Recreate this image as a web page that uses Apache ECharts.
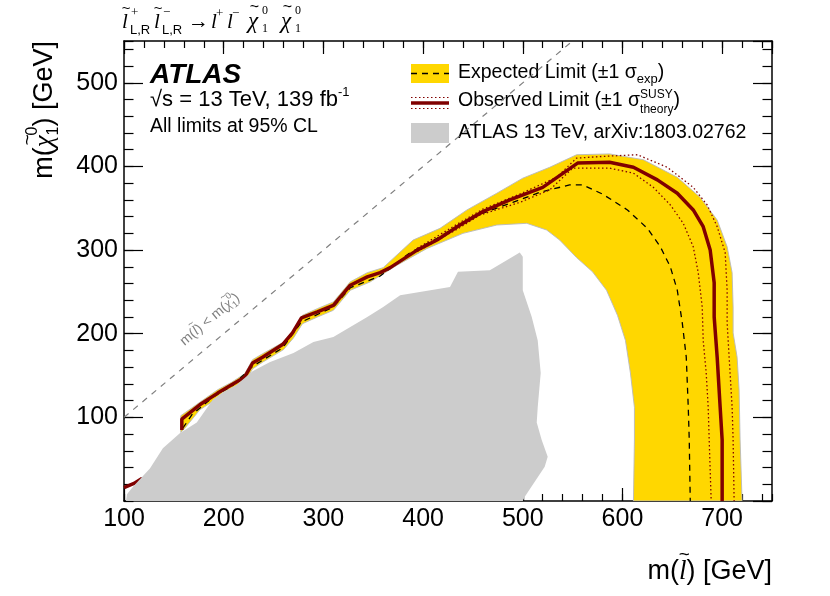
<!DOCTYPE html>
<html>
<head>
<meta charset="utf-8">
<script src="https://cdn.jsdelivr.net/npm/echarts@6/dist/echarts.min.js"></script>
<style>
  html, body { margin: 0; padding: 0; background: #fff; }
  #chart { width: 830px; height: 596px; }
</style>
</head>
<body>
<div id="chart"></div>
<script>
// 曲线数据 (GeV)
const observed = [[158,85],[158,98],[176,115],[194,129],[208,139],[221,148],[229,165],[239,172],[259,187],[269,201],[278,219],[294,226],[310,234],[327,258],[344,268],[357,273],[367,279],[394,300],[414,312],[437,330],[460,346],[487,360],[520,375],[555,404],[587,405],[611,399],[635,384],[655,368],[671,348],[681,328],[688,300],[692,261],[692,220],[695,172],[698,112],[700,73],[700,0]];
const observedLow = [[100,16],[110,21],[118,27],[122,3]];
const expected = [[159,87],[168,103],[189,124],[208,137],[229,161],[259,183],[278,214],[310,232],[327,255],[357,269],[387,297],[414,314],[450,340],[490,357],[517,369],[547,378],[560,378],[580,367],[605,348],[625,326],[638,304],[648,280],[655,252],[660,213],[664,172],[666,112],[667,73],[668,0]];
const theoryUp = [[394,302],[437,333],[460,349],[497,367],[534,387],[554,410],[580,412],[615,414],[645,399],[671,375],[685,354],[695,328],[703,297],[705,252],[705,213],[707,172],[710,112],[711,73],[712,0]];
const theoryDown = [[394,298],[437,327],[457,342],[497,357],[527,372],[550,398],[587,398],[611,392],[631,375],[648,354],[661,332],[671,304],[676,273],[680,232],[681,192],[684,153],[686,112],[687,73],[689,0]];
const bandOuter = [[157,102],[176,118],[194,133],[208,142],[221,152],[229,169],[239,176],[260,190],[270,204],[279,222],[294,230],[310,238],[327,262],[344,273],[360,279],[390,312],[417,326],[444,348],[474,368],[500,386],[527,399],[554,414],[587,415],[621,408],[655,387],[678,363],[695,336],[705,304],[710,273],[711,232],[711,201],[715,172],[717,133],[718,73],[720,0]];
const bandInner = [[611,0],[612,73],[612,112],[608,153],[603,192],[595,222],[584,252],[570,274],[554,291],[537,312],[524,324],[504,332],[474,330],[440,320],[404,302],[374,282],[347,262],[327,252],[310,228],[294,220],[279,212],[270,195],[260,181],[239,166],[229,158],[221,142],[208,133],[194,123],[176,109],[161,87],[157,82]];
const previousLimit = [[102,0],[103,8],[109,17],[126,39],[139,63],[156,81],[173,94],[189,121],[199,130],[213,139],[229,155],[246,166],[270,177],[290,190],[310,196],[327,208],[344,220],[360,232],[377,246],[427,256],[435,274],[467,276],[497,297],[500,292],[500,252],[509,220],[515,192],[518,153],[515,112],[514,94],[519,73],[525,53],[522,41],[502,5],[500,0]];
const diagonal = [[100,100],[550,550]];

const SANS = 'Liberation Sans';
const SERIF = 'Liberation Serif';

var myChart = echarts.init(document.getElementById('chart'));

// 文字宽度测量
const measureCtx = document.createElement('canvas').getContext('2d');
function fontOf(p) {
  return (p.italic ? 'italic ' : '') + (p.bold ? 'bold ' : '') + p.size + 'px "' + (p.family || SANS) + '"';
}
function textW(str, font) {
  measureCtx.font = font;
  return measureCtx.measureText(str).width;
}
function partsWidth(parts) {
  let w = 0, held = 0;
  parts.forEach(function (p) {
    const pw = textW(p.t, fontOf(p));
    if (p.hold) { held = pw; return; }
    w += Math.max(pw, held);
    held = 0;
  });
  return w;
}
function textEl(x, y, str, font, color, align) {
  return {
    type: 'text', x: x, y: y,
    style: {
      text: str, font: font, fill: color,
      align: align || 'left', verticalAlign: 'middle',
      textAlign: align || 'left', textVerticalAlign: 'middle'
    }
  };
}
// 多段文字（上下标、波浪号）组合
function composite(parts, x, y, rotation, color) {
  const children = [];
  let cx = 0, held = 0;
  color = color || '#000';
  parts.forEach(function (p) {
    const font = fontOf(p);
    const px = p.x !== undefined ? p.x : cx;
    const pw = textW(p.t, font);
    children.push(textEl(px, p.dy || 0, p.t, font, p.color || color));
    if (p.tilde) {
      const tf = Math.round(p.size * 0.7) + 'px "' + SANS + '"';
      children.push(textEl(px + pw / 2 + p.size * 0.06, (p.dy || 0) - p.size * 0.62, '~', tf, p.color || color, 'center'));
    }
    if (p.x !== undefined) { cx = px + pw; held = 0; return; }
    if (p.hold) { held = pw; return; }
    cx += Math.max(pw, held);
    held = 0;
  });
  return { type: 'group', x: x, y: y, rotation: rotation || 0, silent: true, children: children };
}

// 多边形区域
function polygonSeries(points, fill, stroke, z) {
  return {
    type: 'custom',
    coordinateSystem: 'cartesian2d',
    xAxisIndex: 0, yAxisIndex: 0,
    data: points,
    z: z,
    silent: true,
    clip: true,
    renderItem: function (params, api) {
      if (params.dataIndex !== 0) return;
      const pts = points.map(function (p) { return api.coord(p); });
      return {
        type: 'polygon',
        shape: { points: pts },
        style: { fill: fill, stroke: stroke || 'none', lineWidth: 1 }
      };
    }
  };
}
function lineSeries(data, color, width, type, z) {
  return {
    type: 'line',
    xAxisIndex: 0, yAxisIndex: 0,
    data: data,
    showSymbol: false,
    silent: true,
    z: z,
    lineStyle: { color: color, width: width, type: type },
    animation: false
  };
}

const gridRect = { left: 124, right: 58, top: 41, bottom: 95 };

function xAx(grid, pos, interval, len, labels) {
  return {
    type: 'value', gridIndex: grid, position: pos, min: 100, max: 750, interval: interval,
    axisLine: { show: grid === 0, onZero: false, lineStyle: { color: '#000', width: 1.5 } },
    axisTick: { show: true, inside: true, length: len, lineStyle: { color: '#000', width: 1.2 } },
    axisLabel: labels ? { show: true, fontSize: 25, color: '#000', fontFamily: SANS, margin: 6, showMaxLabel: false } : { show: false },
    splitLine: { show: false }
  };
}
function yAx(grid, pos, interval, len, labels) {
  return {
    type: 'value', gridIndex: grid, position: pos, min: 0, max: 550, interval: interval,
    axisLine: { show: grid === 0, onZero: false, lineStyle: { color: '#000', width: 1.5 } },
    axisTick: { show: true, inside: true, length: len, lineStyle: { color: '#000', width: 1.2 } },
    axisLabel: labels ? { show: true, fontSize: 25, color: '#000', fontFamily: SANS, margin: 6, showMinLabel: false, showMaxLabel: false } : { show: false },
    splitLine: { show: false }
  };
}

// 坐标轴标题
const xTitleParts = [
  { t: 'm(', size: 27 },
  { t: 'l', size: 27, family: SERIF, italic: true, tilde: true },
  { t: ') [GeV]', size: 27 }
];
const yTitleParts = [
  { t: 'm(', size: 27 },
  { t: '\u03C7', size: 27, family: SERIF, italic: true, tilde: true },
  { t: '0', size: 16, dy: -12, hold: true },
  { t: '1', size: 16, dy: 9 },
  { t: ') [GeV]', size: 27 }
];
const yTitleW = partsWidth(yTitleParts);
const xTitleW = partsWidth(xTitleParts);

// 标题各部分位置（像素）
const titleParts = [
  { t: 'l', x: 122, size: 21, family: SERIF, italic: true, tilde: true },
  { t: '+', x: 131, size: 13, dy: -9, family: SERIF },
  { t: 'L,R', x: 130, size: 13, dy: 8 },
  { t: 'l', x: 154, size: 21, family: SERIF, italic: true, tilde: true },
  { t: '\u2212', x: 163, size: 13, dy: -9, family: SERIF },
  { t: 'L,R', x: 162, size: 13, dy: 8 },
  { t: '\u2192', x: 188, size: 21, family: SERIF },
  { t: 'l', x: 211, size: 21, family: SERIF, italic: true },
  { t: '+', x: 216, size: 13, dy: -8, family: SERIF },
  { t: 'l', x: 227, size: 21, family: SERIF, italic: true },
  { t: '\u2212', x: 232, size: 13, dy: -8, family: SERIF },
  { t: '\u03C7', x: 248, size: 23, family: SERIF, italic: true, tilde: true },
  { t: '0', x: 262, size: 12, dy: -11, family: SERIF },
  { t: '1', x: 262, size: 12, dy: 7, family: SERIF },
  { t: '\u03C7', x: 281, size: 23, family: SERIF, italic: true, tilde: true },
  { t: '0', x: 295, size: 12, dy: -11, family: SERIF },
  { t: '1', x: 295, size: 12, dy: 7, family: SERIF }
];

const graphics = [
  composite(titleParts, 0, 22),
  // ATLAS 标签
  composite([{ t: 'ATLAS', size: 28, bold: true, italic: true }], 150, 75),
  composite([
    { t: '\u221As = 13 TeV, 139 fb', size: 22 },
    { t: '-1', size: 13, dy: -8 }
  ], 150, 100),
  composite([{ t: 'All limits at 95% CL', size: 19.5 }], 150, 127),
  // 图例
  { type: 'rect', shape: { x: 411, y: 64, width: 38, height: 19 }, style: { fill: '#ffd700' }, silent: true },
  { type: 'line', shape: { x1: 411, y1: 73.5, x2: 449, y2: 73.5 }, style: { stroke: '#000', lineWidth: 1.3, lineDash: [6, 5] }, silent: true },
  composite([
    { t: 'Expected Limit (\u00B11 \u03C3', size: 19.5 },
    { t: 'exp', size: 13, dy: 6 },
    { t: ')', size: 19.5 }
  ], 458, 73),
  { type: 'line', shape: { x1: 411, y1: 103, x2: 449, y2: 103 }, style: { stroke: '#800000', lineWidth: 3.5 }, silent: true },
  { type: 'line', shape: { x1: 411, y1: 97.5, x2: 449, y2: 97.5 }, style: { stroke: '#800000', lineWidth: 1.2, lineDash: [1.5, 2.5] }, silent: true },
  { type: 'line', shape: { x1: 411, y1: 108.5, x2: 449, y2: 108.5 }, style: { stroke: '#800000', lineWidth: 1.2, lineDash: [1.5, 2.5] }, silent: true },
  composite([
    { t: 'Observed Limit (\u00B11 \u03C3', size: 19.5 },
    { t: 'SUSY', size: 12, dy: -6, hold: true },
    { t: 'theory', size: 12, dy: 9 },
    { t: ')', size: 19.5 }
  ], 458, 101),
  { type: 'rect', shape: { x: 411, y: 123, width: 38, height: 20 }, style: { fill: '#cccccc' }, silent: true },
  composite([{ t: 'ATLAS 13 TeV, arXiv:1803.02762', size: 19.5 }], 458, 133),
  // 对角线说明
  composite([
    { t: 'm(', size: 14 },
    { t: 'l', size: 14, family: SERIF, italic: true, tilde: true },
    { t: ') < m(', size: 14 },
    { t: '\u03C7', size: 14, family: SERIF, italic: true, tilde: true },
    { t: '0', size: 9, dy: -6, hold: true },
    { t: '1', size: 9, dy: 5 },
    { t: ')', size: 14 }
  ], 182, 343, 0.70, '#808080'),
  // 轴标题
  composite(xTitleParts, 772 - xTitleW, 572),
  composite(yTitleParts, 45, 41 + yTitleW, Math.PI / 2)
];

var option = {
  animation: false,
  backgroundColor: '#fff',
  grid: [
    Object.assign({}, gridRect),
    Object.assign({}, gridRect)
  ],
  xAxis: [
    xAx(0, 'bottom', 100, 13, true),
    xAx(0, 'top', 100, 13, false),
    xAx(1, 'bottom', 20, 7, false),
    xAx(1, 'top', 20, 7, false)
  ],
  yAxis: [
    yAx(0, 'left', 100, 19, true),
    yAx(0, 'right', 100, 19, false),
    yAx(1, 'left', 20, 9.5, false),
    yAx(1, 'right', 20, 9.5, false)
  ],
  series: [
    polygonSeries(bandOuter.concat(bandInner), '#ffd700', 'rgba(185,185,185,0.9)', 1),
    lineSeries(diagonal, '#808080', 1.2, [6, 6], 2),
    lineSeries(expected, '#000', 1.3, [6, 5], 2),
    lineSeries(theoryUp, '#800000', 1.3, [1.5, 2.5], 3),
    lineSeries(theoryDown, '#800000', 1.3, [1.5, 2.5], 3),
    lineSeries(observed, '#800000', 3.5, 'solid', 4),
    lineSeries(observedLow, '#800000', 3.5, 'solid', 4),
    polygonSeries(previousLimit, '#cccccc', null, 5)
  ],
  graphic: graphics
};

myChart.setOption(option);
</script>
</body>
</html>
